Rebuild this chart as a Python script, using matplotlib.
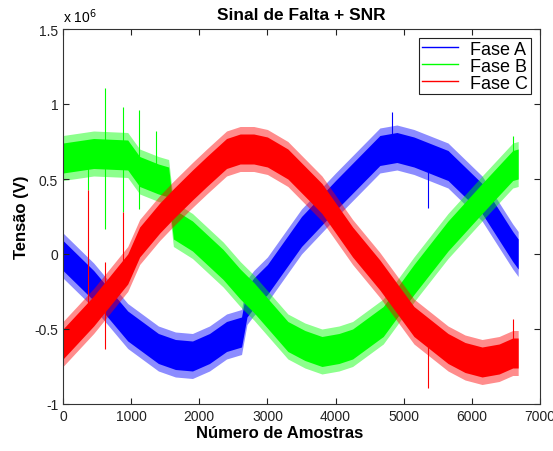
import numpy as np
import matplotlib
matplotlib.use("Agg")
import matplotlib.pyplot as plt

plt.rcParams['font.family'] = ['Liberation Sans', 'DejaVu Sans']

# centre of each noisy phase (x 10^6 V)
samples_a = [0, 450, 950, 1400, 1650, 1900, 2150, 2400, 2620, 2700, 2800, 3000, 3500, 4000,
             4650, 4900, 5150, 5650, 6150, 6600, 6680]
fase_a = [-0.01, -0.21, -0.48, -0.63, -0.67, -0.68, -0.63, -0.55, -0.52, -0.32, -0.26, -0.17,
          0.15, 0.39, 0.69, 0.71, 0.68, 0.59, 0.37, 0.05, 0.0]

samples_b = [0, 450, 950, 1125, 1400, 1550, 1620, 1900, 2350, 2600, 2800, 3300, 3550, 3800,
             4050, 4250, 4700, 5150, 5650, 6150, 6600, 6680]
fase_b = [0.64, 0.67, 0.66, 0.55, 0.5, 0.48, 0.2, 0.12, -0.07, -0.2, -0.29, -0.55, -0.61,
          -0.65, -0.63, -0.6, -0.45, -0.17, 0.12, 0.37, 0.59, 0.6]

samples_c = [0, 450, 950, 1125, 1420, 1610, 1900, 2110, 2400, 2600, 2800, 3000, 3300, 3800,
             4250, 4650, 5150, 5650, 5900, 6150, 6400, 6600, 6680]
fase_c = [-0.6, -0.38, -0.1, 0.08, 0.24, 0.33, 0.46, 0.55, 0.67, 0.7, 0.7, 0.68, 0.6, 0.37,
          0.08, -0.14, -0.45, -0.63, -0.69, -0.72, -0.7, -0.66, -0.66]

# noise spread around the centre (x 10^6 V)
spread = 0.1

# isolated spikes: sample, low, high
spikes_a = [(4826, 0.7, 0.95), (5355, 0.31, 0.6)]
spikes_b = [(365, 0.43, 0.75), (620, 0.17, 1.11), (880, 0.28, 0.98), (1110, 0.3, 0.96),
            (1370, 0.5, 0.82), (6610, 0.5, 0.79)]
spikes_c = [(365, -0.4, 0.43), (620, -0.63, -0.05), (880, -0.2, 0.28), (5355, -0.89, -0.5),
            (6610, -0.6, -0.43)]

fig = plt.figure(figsize=(5.53, 4.52), dpi=100)
ax = fig.add_axes([63/553, 47/452, 477/553, 375/452])

series = [
    ("Fase A", samples_a, fase_a, spikes_a, "#0000ff"),
    ("Fase B", samples_b, fase_b, spikes_b, "#00ff00"),
    ("Fase C", samples_c, fase_c, spikes_c, "#ff0000"),
]
for name, xs, ys, sp, col in series:
    xs = np.array(xs)
    ys = np.array(ys)
    ax.fill_between(xs, ys - spread * 1.5, ys + spread * 1.5, color=col, alpha=0.45, lw=0)
    ax.fill_between(xs, ys - spread, ys + spread, color=col, lw=0)
    for s, lo, hi in sp:
        ax.vlines(s, lo, hi, color=col, lw=0.8)
    ax.plot([], [], color=col, lw=1, label=name)

ax.set_xlim(0, 7000)
ax.set_ylim(-1, 1.5)
ax.set_xticks(range(0, 7001, 1000))
ax.set_yticks([-1, -0.5, 0, 0.5, 1, 1.5])
ax.set_yticklabels(["-1", "-0.5", "0", "0.5", "1", "1.5"])
ax.tick_params(direction='in', top=True, right=True, labelsize=10, length=4, colors='#222222')
for s in ax.spines.values():
    s.set_color('#333333')

ax.text(0, 1.012, r"x 10$^6$", transform=ax.transAxes, fontsize=10, va='bottom')
ax.set_title("Sinal de Falta + SNR", fontsize=12.5, fontweight='bold', pad=7)
ax.set_xlabel("Número de Amostras", fontsize=12, fontweight='bold')
ax.xaxis.set_label_coords(0.455, -0.055)
ax.set_ylabel("Tensão (V)", fontsize=12, fontweight='bold')

leg = ax.legend(loc='upper right', fontsize=13, fancybox=False, framealpha=1,
                handlelength=2.0, handletextpad=0.7, borderpad=0.15, labelspacing=0.0,
                borderaxespad=0.5)
leg.get_frame().set_edgecolor('#222222')
leg.get_frame().set_linewidth(0.8)

fig.savefig("out.png", dpi=100)
